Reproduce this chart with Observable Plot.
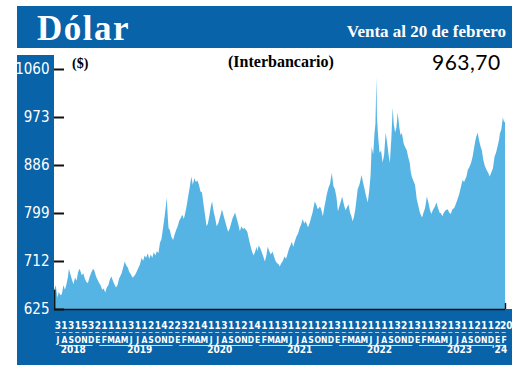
<!DOCTYPE html>
<html><head><meta charset="utf-8">
<script src="https://cdn.jsdelivr.net/npm/d3@7"></script>
<script src="https://cdn.jsdelivr.net/npm/@observablehq/plot@0.6"></script>
<style>
body{margin:0;background:#fff;}
#wrap{position:relative;width:520px;height:374px;overflow:hidden;font-family:"Liberation Serif",serif;background:#fff;}
.band{position:absolute;background:#0863a9;}
.t{position:absolute;white-space:nowrap;line-height:1;}
#chart,#axis{position:absolute;left:0;}
svg{overflow:visible;}
</style></head><body>
<div id="wrap">
  <div class="band" style="left:17px;top:6px;width:495px;height:42px"></div>
  <div class="band" style="left:17px;top:55px;width:37px;height:256px"></div>
  <div class="band" style="left:17px;top:309px;width:495px;height:56px"></div>
  <div id="chart" style="top:0"></div>
  <div id="axis" style="top:309px"></div>
  <div class="t" style="left:37px;top:11px;font-size:35px;font-weight:bold;color:#fff;letter-spacing:1.5px">Dólar</div>
  <div class="t" style="right:14px;top:22.5px;font-size:17px;font-weight:bold;color:#fff">Venta al 20 de febrero</div>
  <div class="t" style="left:72px;top:57px;font-size:14px;font-weight:bold">($)</div>
  <div class="t" style="left:228px;top:54px;font-size:16px;font-weight:bold">(Interbancario)</div>
  <div class="t" style="left:432px;top:51px;font-size:21px;font-family:Lato,sans-serif;letter-spacing:0.5px">963,70</div>
</div>
<script>
// ---- data ----
const yTicks = [625, 712, 799, 886, 973, 1060];

const serie = [
["2018-07-02",660],["2018-07-09",668],["2018-07-16",646],["2018-07-23",656],["2018-07-30",650],
["2018-08-06",652],["2018-08-13",668],["2018-08-20",660],["2018-08-27",670],
["2018-09-03",684],["2018-09-07",698],["2018-09-14",688],["2018-09-21",678],["2018-09-28",670],
["2018-10-05",682],["2018-10-12",676],["2018-10-19",692],["2018-10-26",698],
["2018-11-05",686],["2018-11-12",690],["2018-11-19",680],["2018-11-26",674],
["2018-12-03",672],["2018-12-10",682],["2018-12-17",690],["2018-12-26",698],
["2019-01-02",694],["2019-01-09",684],["2019-01-16",678],["2019-01-23",672],["2019-01-30",668],
["2019-02-06",660],["2019-02-13",662],["2019-02-20",655],["2019-02-27",664],
["2019-03-06",668],["2019-03-13",678],["2019-03-20",684],["2019-03-27",676],
["2019-04-03",670],["2019-04-10",664],["2019-04-17",668],["2019-04-24",680],
["2019-05-06",690],["2019-05-13",700],["2019-05-20",711],["2019-05-27",704],
["2019-06-03",700],["2019-06-10",692],["2019-06-17",688],["2019-06-24",682],
["2019-07-01",684],["2019-07-08",688],["2019-07-15",694],["2019-07-22",700],["2019-07-29",706],
["2019-08-05",718],["2019-08-12",712],["2019-08-19",722],["2019-08-26",718],
["2019-09-02",726],["2019-09-09",716],["2019-09-16",724],["2019-09-23",718],["2019-09-30",728],
["2019-10-07",722],["2019-10-14",730],["2019-10-21",726],["2019-10-28",745],
["2019-11-04",752],["2019-11-11",772],["2019-11-18",792],["2019-11-25",815],["2019-11-28",827],
["2019-12-03",790],["2019-12-06",772],["2019-12-12",768],["2019-12-19",756],["2019-12-27",750],
["2020-01-03",760],["2020-01-10",768],["2020-01-17",775],["2020-01-24",785],["2020-01-31",790],
["2020-02-07",796],["2020-02-14",788],["2020-02-21",800],["2020-02-28",815],
["2020-03-06",832],["2020-03-12",845],["2020-03-19",865],["2020-03-26",850],
["2020-04-02",862],["2020-04-09",855],["2020-04-16",858],["2020-04-23",850],["2020-04-30",838],
["2020-05-07",836],["2020-05-14",815],["2020-05-21",795],["2020-05-28",775],
["2020-06-03",780],["2020-06-10",795],["2020-06-17",812],["2020-06-22",820],["2020-06-30",800],
["2020-07-06",790],["2020-07-13",775],["2020-07-20",780],["2020-07-27",790],
["2020-08-03",800],["2020-08-06",806],["2020-08-13",795],["2020-08-20",785],["2020-08-27",775],
["2020-09-03",765],["2020-09-10",770],["2020-09-17",780],["2020-09-24",790],
["2020-10-01",796],["2020-10-05",800],["2020-10-12",790],["2020-10-19",780],["2020-10-27",766],
["2020-11-03",775],["2020-11-10",770],["2020-11-17",772],["2020-11-24",768],["2020-11-30",765],
["2020-12-07",752],["2020-12-14",740],["2020-12-21",730],["2020-12-28",722],
["2021-01-04",728],["2021-01-11",738],["2021-01-15",730],["2021-01-21",740],["2021-01-28",735],
["2021-02-04",728],["2021-02-11",720],["2021-02-18",711],["2021-02-25",722],
["2021-03-03",738],["2021-03-10",730],["2021-03-17",724],["2021-03-25",729],
["2021-04-01",720],["2021-04-08",712],["2021-04-15",708],["2021-04-22",706],["2021-04-27",702],
["2021-05-04",708],["2021-05-11",712],["2021-05-19",720],["2021-05-26",716],
["2021-06-02",725],["2021-06-09",735],["2021-06-15",740],["2021-06-21",747],["2021-06-28",738],
["2021-07-05",748],["2021-07-13",757],["2021-07-20",762],["2021-07-27",772],
["2021-08-03",778],["2021-08-10",788],["2021-08-17",780],["2021-08-24",784],["2021-08-31",776],
["2021-09-03",773],["2021-09-10",780],["2021-09-17",790],["2021-09-24",800],
["2021-10-04",820],["2021-10-11",814],["2021-10-18",806],["2021-10-28",811],
["2021-11-03",805],["2021-11-10",793],["2021-11-17",810],["2021-11-23",822],["2021-11-28",833],
["2021-12-06",845],["2021-12-13",852],["2021-12-21",872],["2021-12-28",848],
["2022-01-04",842],["2022-01-11",828],["2022-01-18",802],["2022-01-25",812],["2022-01-31",820],
["2022-02-06",829],["2022-02-14",815],["2022-02-21",804],["2022-02-28",809],
["2022-03-07",815],["2022-03-14",800],["2022-03-21",792],["2022-03-25",784],["2022-03-31",790],
["2022-04-07",805],["2022-04-13",825],["2022-04-18",842],["2022-04-26",850],
["2022-05-06",868],["2022-05-12",855],["2022-05-18",845],["2022-05-25",832],
["2022-06-03",818],["2022-06-10",840],["2022-06-16",868],["2022-06-21",919],["2022-06-28",905],
["2022-07-04",944],["2022-07-08",960],["2022-07-13",1045],["2022-07-15",975],["2022-07-20",940],["2022-07-27",908],
["2022-08-03",912],["2022-08-10",890],["2022-08-17",905],["2022-08-24",945],["2022-08-31",925],
["2022-09-06",905],["2022-09-12",890],["2022-09-19",935],["2022-09-25",990],["2022-09-30",960],
["2022-10-06",945],["2022-10-12",954],["2022-10-18",981],["2022-10-25",955],["2022-10-31",940],
["2022-11-06",944],["2022-11-14",925],["2022-11-21",918],["2022-11-28",913],
["2022-12-05",900],["2022-12-12",890],["2022-12-16",875],["2022-12-21",865],["2022-12-28",858],
["2023-01-05",850],["2023-01-13",824],["2023-01-20",812],["2023-01-27",800],
["2023-02-06",791],["2023-02-13",800],["2023-02-20",808],["2023-02-28",829],
["2023-03-07",818],["2023-03-14",805],["2023-03-21",797],["2023-03-28",805],
["2023-04-05",810],["2023-04-13",818],["2023-04-20",808],["2023-04-27",800],
["2023-05-04",798],["2023-05-10",793],["2023-05-17",800],["2023-05-25",804],
["2023-06-03",806],["2023-06-10",800],["2023-06-17",797],["2023-06-25",806],
["2023-07-03",808],["2023-07-10",815],["2023-07-18",824],["2023-07-25",832],
["2023-08-02",845],["2023-08-10",859],["2023-08-17",855],["2023-08-28",865],
["2023-09-03",877],["2023-09-10",882],["2023-09-18",890],["2023-09-25",901],
["2023-10-03",920],["2023-10-10",935],["2023-10-18",945],["2023-10-25",930],["2023-10-31",920],
["2023-11-06",913],["2023-11-13",895],["2023-11-20",884],["2023-11-28",877],
["2023-12-05",872],["2023-12-12",865],["2023-12-19",872],["2023-12-27",880],
["2024-01-03",901],["2024-01-10",908],["2024-01-17",920],["2024-01-24",932],["2024-01-28",944],
["2024-02-03",950],["2024-02-10",972],["2024-02-15",965],["2024-02-20",963.7]
];

const mesesClave = [
"2018-07","2018-08","2018-09","2018-10","2018-11","2018-12",
"2019-01","2019-02","2019-03","2019-04","2019-05","2019-06","2019-07","2019-08","2019-09","2019-10","2019-11","2019-12",
"2020-01","2020-02","2020-03","2020-04","2020-05","2020-06","2020-07","2020-08","2020-09","2020-10","2020-11","2020-12",
"2021-01","2021-02","2021-03","2021-04","2021-05","2021-06","2021-07","2021-08","2021-09","2021-10","2021-11","2021-12",
"2022-01","2022-02","2022-03","2022-04","2022-05","2022-06","2022-07","2022-08","2022-09","2022-10","2022-11","2022-12",
"2023-01","2023-02","2023-03","2023-04","2023-05","2023-06","2023-07","2023-08","2023-09","2023-10","2023-11","2023-12",
"2024-01","2024-02"];
const mesesLetra = [
"J","A","S","O","N","D",
"E","F","M","A","M","J","J","A","S","O","N","D",
"E","F","M","A","M","J","J","A","S","O","N","D",
"E","F","M","A","M","J","J","A","S","O","N","D",
"E","F","M","A","M","J","J","A","S","O","N","D",
"E","F","M","A","M","J","J","A","S","O","N","D",
"E","F"];
const dias = [
"3","1","3","1","5","3",
"2","1","1","1","1","3","1","1","2","1","4","2",
"2","3","2","1","4","1","1","3","1","1","2","1",
"4","1","1","1","3","1","1","2","1","1","2","1",
"3","1","1","1","2","1","1","1","1","3","2","1",
"3","1","1","3","2","1","3","1","1","2","1","1",
"2","20"];
const anios = ["2018","2019","2020","2021","2022","2023","'24"];
const aniosDesde = ["2018-07","2019-01","2020-01","2021-01","2022-01","2023-01","2024-01"];
const aniosHasta = ["2018-12","2019-12","2020-12","2021-12","2022-12","2023-12","2024-02"];
const aniosEtiqueta = ["2018-09","2019-07","2020-07","2021-07","2022-07","2023-07","2024-01"];

// ---- chart ----
const azulClaro = "#56b4e4";
const condensed = "'Liberation Sans Narrow','DejaVu Sans Condensed','Arial Narrow',sans-serif";
const datos = serie.map(([d, v]) => ({fecha: new Date(d + "T00:00:00Z"), valor: v}));
const inicio = new Date("2018-07-01T00:00:00Z");
const fin = new Date("2024-02-20T00:00:00Z");
const ultimo = datos[datos.length - 1];

const chart = Plot.plot({
  width: 520, height: 311,
  marginLeft: 54, marginRight: 15, marginTop: 69, marginBottom: 2,
  style: {background: "transparent", overflow: "visible"},
  x: {type: "utc", domain: [inicio, fin], axis: null},
  y: {domain: [yTicks[0], yTicks[yTicks.length - 1]], axis: null},
  marks: [
    Plot.areaY(datos, {x: "fecha", y1: yTicks[0], y2: "valor", fill: azulClaro, curve: "linear"}),
    Plot.ruleY([yTicks[0]], {x1: datos[0].fecha, x2: ultimo.fecha, stroke: "#111", strokeWidth: 1.6}),
    Plot.ruleX([datos[0]], {x: "fecha", y1: yTicks[0], y2: "valor", stroke: "#111", strokeWidth: 1.4}),
    Plot.ruleX([ultimo], {x: "fecha", y1: yTicks[0], y2: yTicks[0] + 11, stroke: "#111", strokeWidth: 1.4}),
    Plot.tickY(yTicks, {y: d => d, stroke: "#111", strokeWidth: 2, insetRight: 441}),
    Plot.axisY({ticks: yTicks, tickSize: 0, tickPadding: 5, tickFormat: d => String(d), label: null,
      color: "white", fontSize: 15, fontFamily: condensed})
  ]
});
document.getElementById("chart").appendChild(chart);

const filas = ["dia", "raya", "mes", "linea", "anio"];
const n = mesesClave.length;
const ejes = Plot.plot({
  width: 520, height: 56,
  marginLeft: 54, marginRight: 13, marginTop: 0, marginBottom: 0,
  style: {background: "transparent", overflow: "visible"},
  x: {type: "point", domain: mesesClave, axis: null},
  y: {type: "point", domain: filas, range: [10.5, 44.5], axis: null},
  marks: [
    Plot.text(dias.slice(0, n - 1), {x: (d, i) => mesesClave[i], y: () => "dia", text: d => d,
      fill: "white", fontSize: 10, fontWeight: "bold", fontFamily: condensed}),
    Plot.text(dias.slice(n - 1), {x: () => mesesClave[n - 1], y: () => "dia", text: d => d, dx: 2,
      fill: "white", fontSize: 10, fontWeight: "bold", fontFamily: condensed}),
    Plot.ruleY(mesesClave, {y: () => "raya", x1: d => d, x2: d => d, insetLeft: -2, insetRight: -2, dy: 1,
      stroke: "#a9d3f2", strokeWidth: 1}),
    Plot.text(mesesLetra, {x: (d, i) => mesesClave[i], y: () => "mes", text: d => d, dy: 3,
      fill: "white", fontSize: 8.5, fontWeight: "bold", fontFamily: condensed}),
    Plot.ruleY(anios, {y: () => "linea", x1: (d, i) => aniosDesde[i], x2: (d, i) => aniosHasta[i],
      dx: 2, dy: 2, stroke: "#bfe0f7", strokeWidth: 1.2}),
    Plot.text(anios, {x: (d, i) => aniosEtiqueta[i], y: () => "anio", text: d => d,
      dx: 2, fill: "white", fontSize: 10, fontWeight: "bold", fontFamily: condensed})
  ]
});
document.getElementById("axis").appendChild(ejes);
</script>
</body></html>
